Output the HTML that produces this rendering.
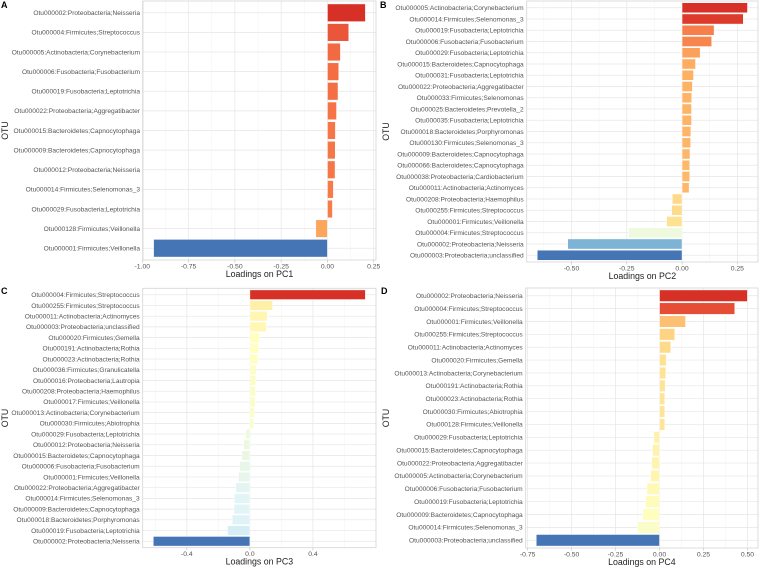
<!DOCTYPE html>
<html><head><meta charset="utf-8"><style>
html,body{margin:0;padding:0;background:#fff;}
svg{display:block;font-family:"Liberation Sans",sans-serif;}
</style></head><body>
<svg id="chart" width="759" height="568"></svg>
<script>
const labelsA=["Otu000002:Proteobacteria;Neisseria","Otu000004:Firmicutes;Streptococcus","Otu000005:Actinobacteria;Corynebacterium","Otu000006:Fusobacteria;Fusobacterium","Otu000019:Fusobacteria;Leptotrichia","Otu000022:Proteobacteria;Aggregatibacter","Otu000015:Bacteroidetes;Capnocytophaga","Otu000009:Bacteroidetes;Capnocytophaga","Otu000012:Proteobacteria;Neisseria","Otu000014:Firmicutes;Selenomonas_3","Otu000029:Fusobacteria;Leptotrichia","Otu000128:Firmicutes;Veillonella","Otu000001:Firmicutes;Veillonella"];
const valuesA=[0.205,0.115,0.07,0.061,0.057,0.049,0.043,0.042,0.041,0.032,0.027,-0.063,-0.939];
const ticksA=[-1,-0.75,-0.5,-0.25,0,0.25];
const tickLabelsA=["-1.00","-0.75","-0.50","-0.25","0.00","0.25"];

const labelsB=["Otu000005:Actinobacteria;Corynebacterium","Otu000014:Firmicutes;Selenomonas_3","Otu000019:Fusobacteria;Leptotrichia","Otu000006:Fusobacteria;Fusobacterium","Otu000029:Fusobacteria;Leptotrichia","Otu000015:Bacteroidetes;Capnocytophaga","Otu000031:Fusobacteria;Leptotrichia","Otu000022:Proteobacteria;Aggregatibacter","Otu000033:Firmicutes;Selenomonas","Otu000025:Bacteroidetes;Prevotella_2","Otu000035:Fusobacteria;Leptotrichia","Otu000018:Bacteroidetes;Porphyromonas","Otu000130:Firmicutes;Selenomonas_3","Otu000009:Bacteroidetes;Capnocytophaga","Otu000066:Bacteroidetes;Capnocytophaga","Otu000038:Proteobacteria;Cardiobacterium","Otu000011:Actinobacteria;Actinomyces","Otu000208:Proteobacteria;Haemophilus","Otu000255:Firmicutes;Streptococcus","Otu000001:Firmicutes;Veillonella","Otu000004:Firmicutes;Streptococcus","Otu000002:Proteobacteria;Neisseria","Otu000003:Proteobacteria;unclassified"];
const valuesB=[0.296,0.277,0.145,0.134,0.082,0.061,0.052,0.047,0.044,0.043,0.043,0.04,0.039,0.036,0.035,0.035,0.032,-0.044,-0.047,-0.07,-0.242,-0.517,-0.655];
const ticksB=[-0.5,-0.25,0,0.25];
const tickLabelsB=["-0.50","-0.25","0.00","0.25"];

const labelsC=["Otu000004:Firmicutes;Streptococcus","Otu000255:Firmicutes;Streptococcus","Otu000011:Actinobacteria;Actinomyces","Otu000003:Proteobacteria;unclassified","Otu000020:Firmicutes;Gemella","Otu000191:Actinobacteria;Rothia","Otu000023:Actinobacteria;Rothia","Otu000036:Firmicutes;Granulicatella","Otu000016:Proteobacteria;Lautropia","Otu000208:Proteobacteria;Haemophilus","Otu000017:Firmicutes;Veillonella","Otu000013:Actinobacteria;Corynebacterium","Otu000030:Firmicutes;Abiotrophia","Otu000029:Fusobacteria;Leptotrichia","Otu000012:Proteobacteria;Neisseria","Otu000015:Bacteroidetes;Capnocytophaga","Otu000006:Fusobacteria;Fusobacterium","Otu000001:Firmicutes;Veillonella","Otu000022:Proteobacteria;Aggregatibacter","Otu000014:Firmicutes;Selenomonas_3","Otu000009:Bacteroidetes;Capnocytophaga","Otu000018:Bacteroidetes;Porphyromonas","Otu000019:Fusobacteria;Leptotrichia","Otu000002:Proteobacteria;Neisseria"];
const valuesC=[0.733,0.144,0.11,0.104,0.062,0.055,0.051,0.04,0.038,0.036,0.034,0.03,0.025,-0.027,-0.04,-0.051,-0.065,-0.072,-0.089,-0.099,-0.101,-0.112,-0.142,-0.613];
const ticksC=[-0.4,0,0.4];
const tickLabelsC=["-0.4","0.0","0.4"];

const labelsD=["Otu000002:Proteobacteria;Neisseria","Otu000004:Firmicutes;Streptococcus","Otu000001:Firmicutes;Veillonella","Otu000255:Firmicutes;Streptococcus","Otu000011:Actinobacteria;Actinomyces","Otu000020:Firmicutes;Gemella","Otu000013:Actinobacteria;Corynebacterium","Otu000191:Actinobacteria;Rothia","Otu000023:Actinobacteria;Rothia","Otu000030:Firmicutes;Abiotrophia","Otu000128:Firmicutes;Veillonella","Otu000029:Fusobacteria;Leptotrichia","Otu000015:Bacteroidetes;Capnocytophaga","Otu000022:Proteobacteria;Aggregatibacter","Otu000005:Actinobacteria;Corynebacterium","Otu000006:Fusobacteria;Fusobacterium","Otu000019:Fusobacteria;Leptotrichia","Otu000009:Bacteroidetes;Capnocytophaga","Otu000014:Firmicutes;Selenomonas_3","Otu000003:Proteobacteria;unclassified"];
const valuesD=[0.5,0.428,0.148,0.087,0.064,0.038,0.036,0.032,0.03,0.03,0.03,-0.032,-0.04,-0.045,-0.051,-0.072,-0.08,-0.095,-0.125,-0.701];
const ticksD=[-0.75,-0.5,-0.25,0,0.25,0.5];
const tickLabelsD=["-0.75","-0.50","-0.25","0.00","0.25","0.50"];

const NS="http://www.w3.org/2000/svg";
const svg=document.getElementById('chart');
const pal=["#4575b4","#74add1","#abd9e9","#e0f3f8","#ffffbf","#fee090","#fdae61","#f46d43","#d73027"];
function hex(h){return [1,3,5].map(i=>parseInt(h.substr(i,2),16));}
function colorAt(t){t=Math.max(0,Math.min(1,t));const p=t*(pal.length-1);const i=Math.min(Math.floor(p),pal.length-2);const f=p-i;const a=hex(pal[i]),b=hex(pal[i+1]);return "rgb("+a.map((v,k)=>Math.round(v+(b[k]-v)*f)).join(",")+")";}
function mk(tag,attrs,parent){const e=document.createElementNS(NS,tag);for(const k in attrs)e.setAttribute(k,attrs[k]);(parent||svg).appendChild(e);return e;}

function panel(cfg){
  const g=mk('g',{});
  
  
  const vals=cfg.values, n=vals.length;
  const mn=Math.min(...vals,0), mx=Math.max(...vals,0), r=mx-mn;
  const d0=mn-0.05*r, d1=mx+0.05*r;
  const x=v=>cfg.x0+(v-d0)/(d1-d0)*(cfg.x1-cfg.x0);
  const step=(cfg.y1-cfg.y0)/(n-1+1.2);
  const y=i=>cfg.y0+(0.6+i)*step;
  mk('rect',{x:cfg.x0,y:cfg.y0,width:cfg.x1-cfg.x0,height:cfg.y1-cfg.y0,fill:'#fff'},g);
  // minor x grid
  for(let i=0;i<cfg.ticks.length+1;i++){
    const t0=cfg.ticks[0]-(cfg.ticks[1]-cfg.ticks[0])/2+i*(cfg.ticks[1]-cfg.ticks[0]);
    const xv=x(t0);
    if(xv>cfg.x0&&xv<cfg.x1)mk('line',{x1:xv,x2:xv,y1:cfg.y0,y2:cfg.y1,stroke:'#f3f3f3','stroke-width':0.5},g);
  }
  cfg.ticks.forEach((t,i)=>{
    const xv=x(t);
    mk('line',{x1:xv,x2:xv,y1:cfg.y0,y2:cfg.y1,stroke:'#e6e6e6','stroke-width':0.7},g);
    mk('line',{x1:xv,x2:xv,y1:cfg.y1,y2:cfg.y1+2.5,stroke:'#bbb','stroke-width':0.6},g);
    const tl=mk('text',{x:xv,y:cfg.y1+8.5,'font-size':6.8,fill:'#555','text-anchor':'middle'},g);
    tl.textContent=cfg.tickLabels[i];
    
    
  });
  const z=x(0);
  vals.forEach((v,i)=>{
    const yc=y(i);
    mk('line',{x1:cfg.x0,x2:cfg.x1,y1:yc,y2:yc,stroke:'#e6e6e6','stroke-width':0.7},g);
    const b=mk('rect',{x:Math.min(x(v),z),y:yc-step*0.45,width:Math.abs(x(v)-z),height:step*0.9,fill:colorAt((v-mn)/(mx-mn)),stroke:'#fff','stroke-width':0.5},g);
    
    
    const t=mk('text',{x:cfg.x0-3,y:yc+2.3,'font-size':6.6,fill:'#555','text-anchor':'end'},g);
    t.textContent=cfg.labels[i];
    
    
  });
  mk('rect',{x:cfg.x0,y:cfg.y0,width:cfg.x1-cfg.x0,height:cfg.y1-cfg.y0,fill:'none',stroke:'#d4d4d4','stroke-width':0.8},g);
  const tt=mk('text',{x:(cfg.x0+cfg.x1)/2,y:cfg.y1+17,'font-size':8.8,fill:'#222','text-anchor':'middle'},g);
  tt.textContent=cfg.title;
  
  
  const oy=(cfg.y0+cfg.y1)/2;
  const ot=mk('text',{x:cfg.otuX,y:oy,'font-size':8.8,fill:'#222','text-anchor':'middle',transform:'rotate(-90 '+cfg.otuX+' '+oy+')'},g);
  ot.textContent='OTU';
  
  
  const lt=mk('text',{x:cfg.lx,y:cfg.ly,'font-size':9,'font-weight':'bold',fill:'#000'},g);
  lt.textContent=cfg.letter;
  
  
}
panel({letter:'A',labels:labelsA,values:valuesA,ticks:ticksA,tickLabels:tickLabelsA,title:'Loadings on PC1',x0:143,x1:376,y0:1,y1:260,otuX:8,lx:1,ly:8});
panel({letter:'B',labels:labelsB,values:valuesB,ticks:ticksB,tickLabels:tickLabelsB,title:'Loadings on PC2',x0:526.7,x1:758,y0:1,y1:262,otuX:389,lx:380,ly:8});
panel({letter:'C',labels:labelsC,values:valuesC,ticks:ticksC,tickLabels:tickLabelsC,title:'Loadings on PC3',x0:142.7,x1:376,y0:288.3,y1:547.7,otuX:8,lx:1,ly:294});
panel({letter:'D',labels:labelsD,values:valuesD,ticks:ticksD,tickLabels:tickLabelsD,title:'Loadings on PC4',x0:525.7,x1:758,y0:288,y1:548,otuX:389,lx:381,ly:294});
</script>
</body></html>
